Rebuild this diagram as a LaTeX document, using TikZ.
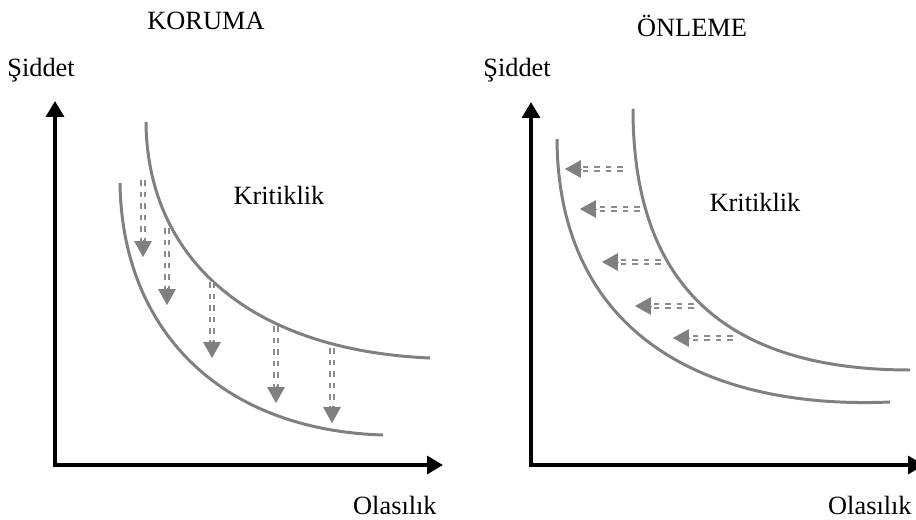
\documentclass[tikz,border=0pt]{standalone}
\usepackage{fontspec}
\setmainfont{Liberation Serif}
\usepackage{xcolor}
\usetikzlibrary{arrows.meta}

\definecolor{curvegray}{RGB}{128,128,128}
\definecolor{shaftgray}{RGB}{140,140,140}

\begin{document}
\begin{tikzpicture}[x=0.02cm, y=-0.02cm,
    axisline/.style={line width=2.8pt, line join=miter, {Triangle[width=10pt,length=9pt]}-{Triangle[width=10pt,length=9pt]}},
    riskcurve/.style={draw=curvegray, line width=1.7pt},
    shaft/.style={draw=shaftgray, line width=1pt, double=white, double distance=1.3pt, dash pattern=on 3.2pt off 3.4pt},
    shafttip/.style={draw=curvegray, line width=0.4pt, -{Triangle[width=10pt,length=9pt]}},
    lbl/.style={font=\fontsize{15}{18}\selectfont, inner sep=0pt}]
    \useasboundingbox (0,0) rectangle (916,520);

    % KORUMA
    \node[lbl, anchor=base] (koruma) at (206,30) {KORUMA};
    \node[lbl, anchor=base west] (siddetL) at (7,77) {Şiddet};
    \node[lbl, anchor=base east] (olasilikL) at (437,514) {Olasılık};
    \node[lbl, anchor=base] (kritikL) at (279,205) {Kritiklik};
    \coordinate (oL) at (55,465);
    \coordinate (yL) at (55,101);
    \coordinate (xL) at (443,465);
    \draw[axisline] (yL) -- (oL) -- (xL);
    \draw[riskcurve] (146,122) .. controls (147,255) and (245,350) .. (430,358);
    \draw[riskcurve] (120,183) .. controls (122,330) and (220,430) .. (383,435);
    \draw[shaft] (143,180) -- (143,242); \draw[shafttip] (143,240) -- (143,257);
    \draw[shaft] (167,228) -- (167,290); \draw[shafttip] (167,288) -- (167,305);
    \draw[shaft] (212,282) -- (212,343); \draw[shafttip] (212,341) -- (212,358);
    \draw[shaft] (276,326) -- (276,388); \draw[shafttip] (276,386) -- (276,403);
    \draw[shaft] (332,348) -- (332,408); \draw[shafttip] (332,406) -- (332,423);

    % ONLEME
    \node[lbl, anchor=base] (onleme) at (692,37) {ÖNLEME};
    \node[lbl, anchor=base west] (siddetR) at (483,77) {Şiddet};
    \node[lbl, anchor=base east] (olasilikR) at (912,514) {Olasılık};
    \node[lbl, anchor=base] (kritikR) at (755,212) {Kritiklik};
    \coordinate (oR) at (531,465);
    \coordinate (yR) at (531,102);
    \coordinate (xR) at (924,465);
    \draw[axisline] (yR) -- (oR) -- (xR);
    \draw[riskcurve] (633,109) .. controls (633,280) and (720,370) .. (910,370);
    \draw[riskcurve] (557,139) .. controls (558,330) and (700,410) .. (890,402);
    \draw[shaft] (623,169) -- (580,169); \draw[shafttip] (582,169) -- (565,169);
    \draw[shaft] (640,209) -- (595,209); \draw[shafttip] (597,209) -- (580,209);
    \draw[shaft] (661,262) -- (617,262); \draw[shafttip] (619,262) -- (602,262);
    \draw[shaft] (694,306) -- (650,306); \draw[shafttip] (652,306) -- (635,306);
    \draw[shaft] (733,338) -- (688,338); \draw[shafttip] (690,338) -- (673,338);
\end{tikzpicture}
\end{document}
